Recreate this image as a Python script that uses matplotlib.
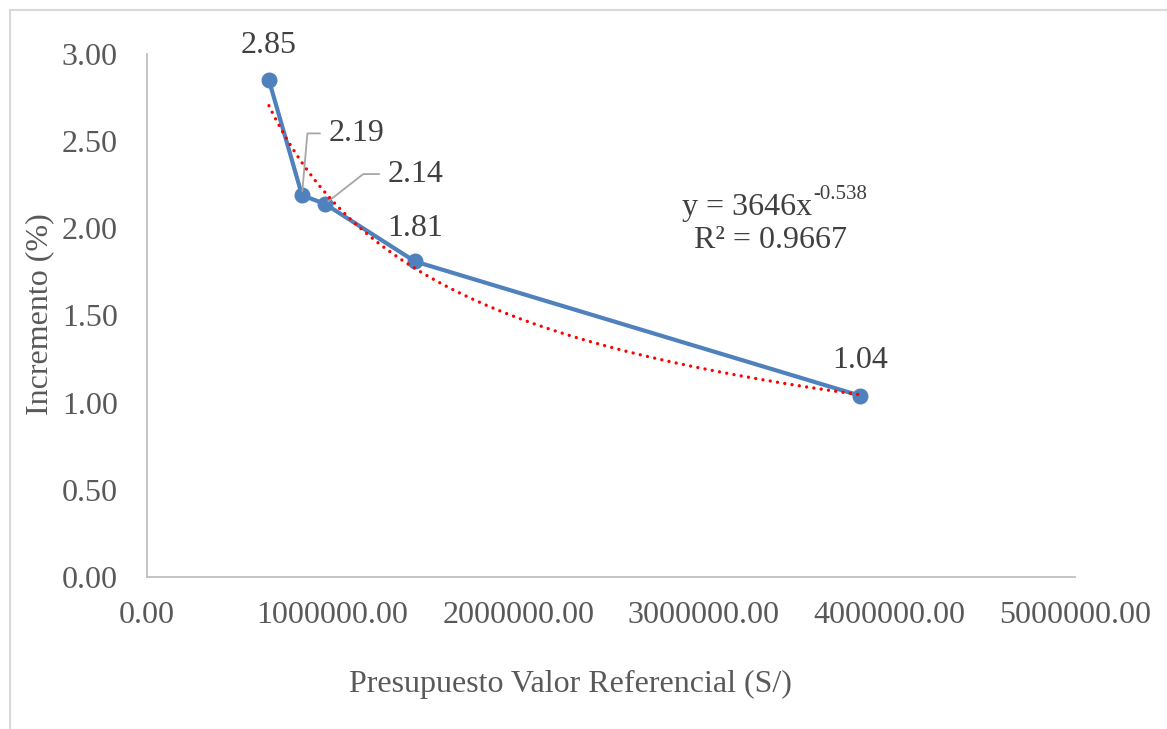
import numpy as np
import matplotlib
matplotlib.use("Agg")
import matplotlib.pyplot as plt
from matplotlib.lines import Line2D

plt.rcParams['font.family'] = ['Liberation Serif', 'DejaVu Serif']

presupuesto = [657000, 835000, 959000, 1444000, 3842000]
incremento = [2.85, 2.19, 2.14, 1.81, 1.04]
labels = ["2.85", "2.19", "2.14", "1.81", "1.04"]
xticks = [0, 1000000, 2000000, 3000000, 4000000, 5000000]
yticks = [0.0, 0.5, 1.0, 1.5, 2.0, 2.5, 3.0]
trend_a = 3646
trend_b = -0.538
r2 = 0.9667

FS = 23
W, H = 1167, 729
fig = plt.figure(figsize=(W / 100, H / 100), dpi=100)
ax = fig.add_axes([147 / W, 1 - 577 / H, (1075 - 147) / W, (577 - 54) / H])

# chart area outline
fig.add_artist(Line2D([10 / W, 10 / W], [0, 1 - 10 / H], transform=fig.transFigure,
                      color='#D9D9D9', lw=1.5))
fig.add_artist(Line2D([10 / W, 1], [1 - 10 / H, 1 - 10 / H], transform=fig.transFigure,
                      color='#D9D9D9', lw=1.5))

blue = '#4F81BD'
ax.plot(presupuesto, incremento, color=blue, lw=3, marker='o', ms=10.5,
        solid_capstyle='round', zorder=3)

xt = np.linspace(min(presupuesto), max(presupuesto), 300)
ax.plot(xt, trend_a * xt ** trend_b, color='#FF0000', lw=2.4,
        linestyle=(0, (0.01, 2.2)), dash_capstyle='round', zorder=4)

ax.set_xlim(0, 5000000)
ax.set_ylim(0, 3)
ax.set_xticks(xticks)
ax.set_yticks(yticks)
ax.set_xticklabels([f"{v:.2f}" for v in xticks])
ax.set_yticklabels([f"{v:.2f}" for v in yticks])
ax.tick_params(length=0, labelsize=FS, colors='#595959')
ax.tick_params(axis='x', pad=17)
ax.tick_params(axis='y', pad=21)
for s in ['top', 'right']:
    ax.spines[s].set_visible(False)
for s in ['left', 'bottom']:
    ax.spines[s].set_color('#BFBFBF')
    ax.spines[s].set_linewidth(1.3)

fig.text(570 / W, 1 - 684 / H, "Presupuesto Valor Referencial (S/)", fontsize=FS,
         color='#595959', ha='center', va='center')
fig.text(40 / W, 1 - 314 / H, "Incremento (%)", fontsize=FS, color='#595959',
         ha='center', va='center', rotation=90)

lab_col = '#404040'
ax.annotate(labels[0], (presupuesto[0], incremento[0]), xytext=(0, 25),
            textcoords='offset points', ha='center', va='center', fontsize=FS, color=lab_col)
ax.annotate(labels[1], (presupuesto[1], incremento[1]), xytext=(19, 44.5),
            textcoords='offset points', ha='left', va='center', fontsize=FS, color=lab_col,
            arrowprops=dict(arrowstyle='-', color='#A6A6A6', lw=1.3,
                            connectionstyle='angle,angleA=0,angleB=85,rad=0',
                            shrinkA=4, shrinkB=3))
ax.annotate(labels[2], (presupuesto[2], incremento[2]), xytext=(45, 21.5),
            textcoords='offset points', ha='left', va='center', fontsize=FS, color=lab_col,
            arrowprops=dict(arrowstyle='-', color='#A6A6A6', lw=1.3,
                            connectionstyle='angle,angleA=0,angleB=38,rad=0',
                            shrinkA=4, shrinkB=3))
ax.annotate(labels[3], (presupuesto[3], incremento[3]), xytext=(0, 24),
            textcoords='offset points', ha='center', va='center', fontsize=FS, color=lab_col)
ax.annotate(labels[4], (presupuesto[4], incremento[4]), xytext=(0, 25),
            textcoords='offset points', ha='center', va='center', fontsize=FS, color=lab_col)

eq = fig.text(682 / W, 1 - 207 / H, "y = %dx" % trend_a, fontsize=FS, color='#404040',
              ha='left', va='center')
ax.annotate("%.3f" % trend_b, xy=(1, 0.62), xycoords=eq, xytext=(1, 0),
            textcoords='offset points', ha='left', va='bottom', fontsize=15, color='#404040')
fig.text(771 / W, 1 - 240 / H, "R² = %.4f" % r2, ha='center', va='center',
         fontsize=FS, color='#404040')

fig.savefig("out.png", dpi=100)
